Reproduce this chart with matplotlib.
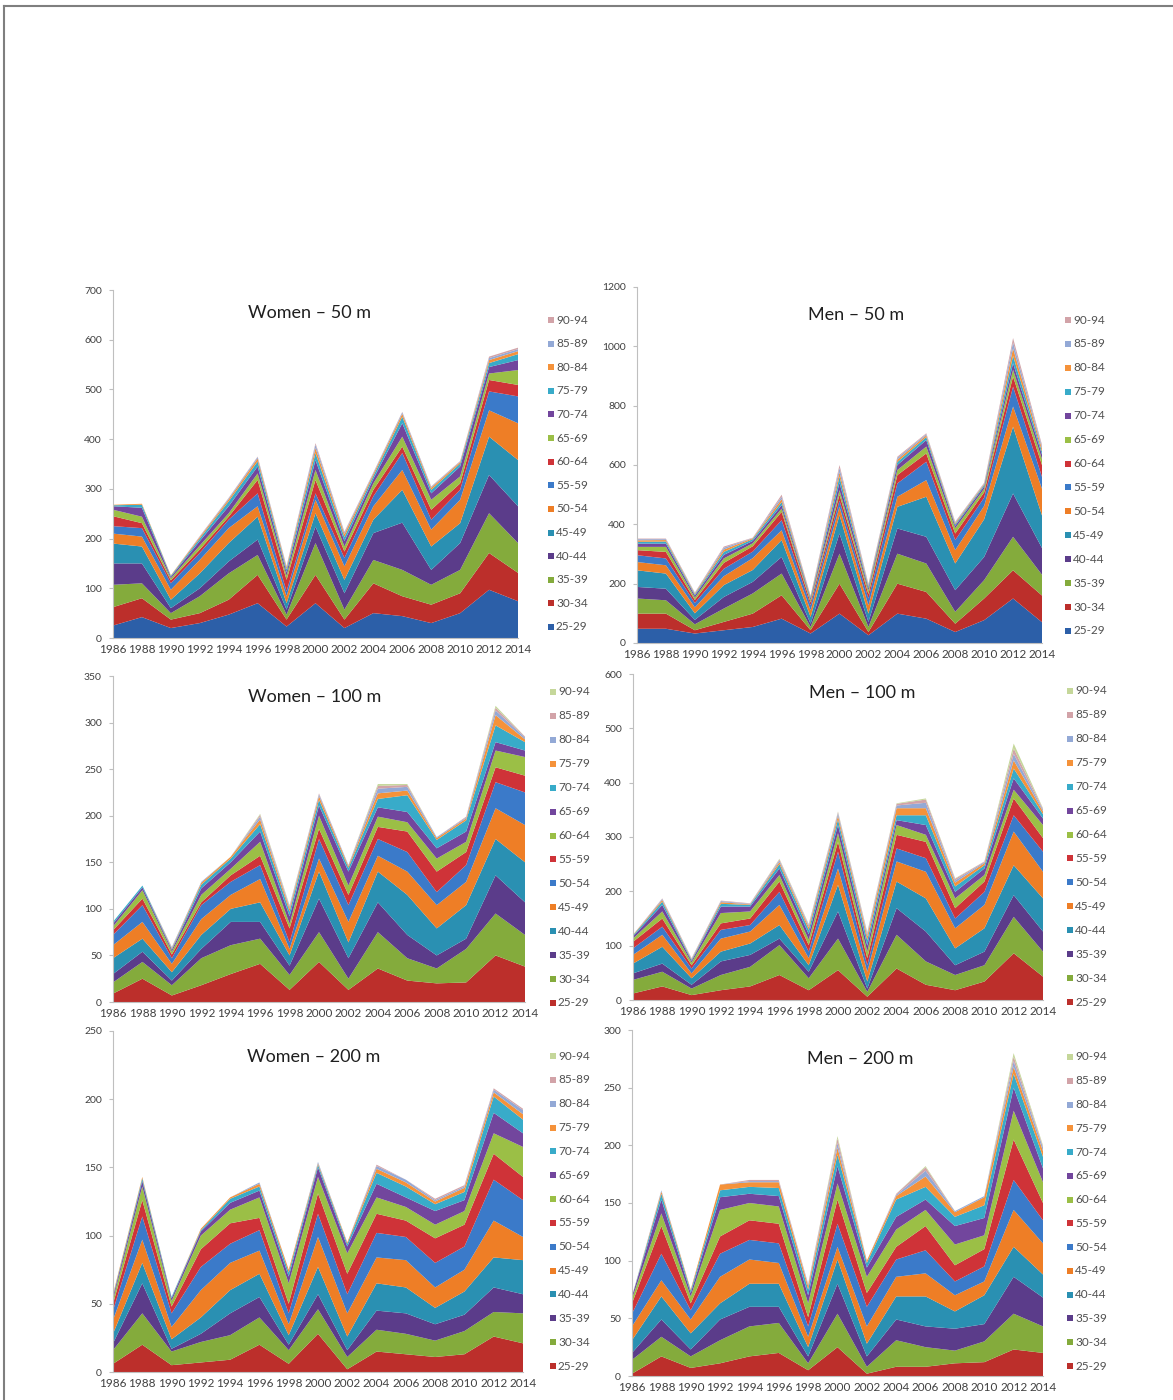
import numpy as np
import matplotlib
matplotlib.use('Agg')
import matplotlib.pyplot as plt
from matplotlib.patches import Rectangle
from matplotlib.lines import Line2D

plt.rcParams['font.family'] = ['Lato', 'DejaVu Sans']

years = list(range(1986, 2015, 2))
ages = ['25-29', '30-34', '35-39', '40-44', '45-49', '50-54', '55-59',
        '60-64', '65-69', '70-74', '75-79', '80-84', '85-89', '90-94']

# one row per championship year, one column per age group (25-29 ... 90-94)
women_50 = [
    [25, 37, 45, 43, 40, 20, 15, 20, 13, 7, 2, 1, 0, 0],
    [42, 38, 30, 40, 34, 20, 17, 10, 13, 18, 6, 2, 0, 0],
    [20, 17, 13, 10, 17, 20, 13, 6, 4, 3, 2, 1, 0, 0],
    [30, 20, 34, 16, 30, 27, 14, 7, 8, 9, 5, 3, 1, 1],
    [47, 30, 53, 24, 37, 30, 17, 6, 7, 14, 10, 4, 2, 1],
    [70, 57, 40, 31, 46, 21, 26, 27, 13, 14, 10, 6, 3, 1],
    [23, 14, 10, 10, 13, 14, 10, 23, 8, 7, 6, 4, 2, 1],
    [70, 57, 64, 33, 27, 27, 13, 27, 20, 20, 14, 10, 7, 3],
    [20, 17, 20, 33, 27, 27, 17, 13, 10, 11, 8, 6, 3, 2],
    [50, 60, 47, 54, 27, 27, 20, 13, 13, 9, 6, 4, 2, 1],
    [44, 40, 53, 95, 66, 40, 34, 13, 20, 27, 13, 6, 3, 1],
    [30, 37, 40, 30, 47, 34, 20, 20, 20, 13, 7, 4, 2, 1],
    [50, 40, 47, 54, 40, 47, 20, 13, 14, 20, 6, 3, 1, 1],
    [97, 74, 80, 77, 77, 53, 38, 23, 13, 13, 8, 6, 4, 3],
    [74, 57, 60, 74, 93, 74, 54, 23, 30, 20, 12, 6, 4, 3],
]

men_50 = [
    [48, 51, 51, 39, 56, 28, 23, 17, 11, 11, 6, 5, 4, 2],
    [48, 51, 45, 39, 51, 28, 23, 22, 17, 11, 7, 5, 3, 2],
    [32, 11, 20, 15, 22, 20, 15, 10, 8, 7, 4, 3, 2, 1],
    [43, 28, 45, 39, 40, 30, 25, 20, 15, 12, 10, 8, 6, 4],
    [54, 45, 68, 39, 40, 40, 22, 18, 10, 8, 6, 3, 1, 1],
    [82, 79, 73, 56, 57, 33, 34, 28, 11, 12, 10, 10, 8, 7],
    [32, 11, 11, 11, 23, 22, 17, 10, 8, 6, 4, 3, 1, 1],
    [99, 101, 101, 68, 62, 28, 21, 20, 15, 25, 20, 15, 15, 10],
    [26, 11, 17, 17, 28, 28, 23, 15, 12, 8, 6, 4, 3, 2],
    [99, 101, 101, 85, 73, 34, 45, 28, 17, 17, 10, 8, 6, 4],
    [82, 90, 96, 90, 135, 56, 62, 28, 23, 22, 10, 6, 4, 3],
    [37, 28, 40, 73, 90, 45, 34, 22, 18, 8, 5, 4, 3, 2],
    [77, 73, 62, 78, 127, 45, 28, 18, 12, 8, 5, 3, 2, 2],
    [150, 95, 113, 146, 225, 68, 67, 34, 23, 22, 25, 25, 20, 15],
    [70, 90, 70, 90, 110, 90, 40, 40, 20, 15, 10, 10, 7, 6],
]

women_100 = [
    [9, 12, 9, 17, 14, 11, 5, 4, 3, 2, 0, 0, 0, 0],
    [25, 18, 11, 14, 18, 18, 7, 9, 3, 2, 0, 0, 0, 0],
    [7, 11, 5, 9, 9, 6, 4, 3, 2, 1, 1, 1, 0, 0],
    [18, 29, 10, 15, 17, 15, 3, 8, 7, 4, 2, 1, 0, 0],
    [30, 31, 25, 14, 15, 14, 7, 7, 7, 4, 2, 0, 0, 0],
    [41, 27, 18, 21, 25, 15, 10, 15, 11, 8, 5, 3, 2, 1],
    [13, 16, 10, 11, 7, 7, 15, 5, 8, 5, 3, 2, 1, 1],
    [43, 32, 36, 29, 14, 21, 11, 14, 11, 6, 4, 2, 1, 0],
    [13, 12, 22, 17, 22, 18, 11, 10, 15, 4, 2, 1, 0, 0],
    [36, 39, 32, 33, 17, 18, 13, 11, 10, 9, 6, 5, 3, 2],
    [23, 24, 25, 43, 25, 21, 22, 10, 11, 18, 5, 4, 2, 1],
    [20, 16, 14, 29, 25, 14, 22, 14, 11, 9, 2, 1, 0, 0],
    [21, 36, 11, 36, 25, 18, 14, 11, 11, 12, 2, 1, 1, 0],
    [50, 45, 41, 39, 33, 28, 16, 18, 9, 18, 11, 5, 3, 2],
    [38, 34, 35, 43, 40, 35, 18, 20, 7, 9, 3, 2, 1, 0],
]

men_100 = [
    [12, 25, 12, 18, 16, 12, 12, 6, 4, 2, 1, 0, 0, 0],
    [25, 27, 15, 31, 22, 15, 15, 13, 12, 6, 3, 2, 1, 0],
    [9, 12, 7, 12, 9, 9, 6, 5, 3, 2, 1, 1, 1, 0],
    [18, 28, 25, 18, 24, 16, 12, 19, 12, 5, 3, 2, 1, 0],
    [25, 36, 22, 21, 22, 12, 12, 13, 9, 3, 1, 1, 1, 0],
    [46, 55, 12, 25, 37, 24, 19, 12, 12, 8, 4, 3, 2, 1],
    [18, 22, 12, 12, 13, 12, 12, 10, 10, 8, 5, 3, 2, 1],
    [55, 58, 50, 49, 30, 31, 18, 16, 15, 10, 7, 5, 2, 1],
    [6, 9, 6, 13, 18, 12, 13, 12, 11, 10, 7, 4, 3, 1],
    [58, 62, 49, 49, 37, 24, 25, 18, 9, 9, 13, 5, 3, 1],
    [28, 43, 55, 61, 49, 25, 30, 13, 18, 18, 13, 10, 6, 2],
    [18, 28, 18, 31, 37, 18, 19, 18, 12, 10, 7, 4, 3, 1],
    [34, 30, 25, 43, 43, 24, 19, 12, 12, 6, 4, 2, 1, 0],
    [86, 67, 40, 55, 62, 30, 31, 16, 21, 18, 15, 12, 10, 9],
    [43, 46, 37, 61, 49, 37, 25, 24, 12, 8, 5, 3, 2, 1],
]

women_200 = [
    [6, 10, 5, 7, 10, 7, 5, 3, 2, 1, 1, 0, 0, 0],
    [20, 23, 22, 15, 17, 17, 12, 10, 4, 2, 1, 0, 0, 0],
    [5, 10, 2, 7, 9, 10, 5, 4, 2, 1, 0, 0, 0, 0],
    [7, 15, 6, 12, 20, 17, 13, 10, 3, 1, 1, 0, 0, 0],
    [9, 18, 16, 17, 20, 14, 15, 10, 5, 3, 1, 0, 0, 0],
    [20, 20, 15, 17, 17, 15, 9, 15, 5, 3, 2, 1, 0, 0],
    [6, 10, 4, 7, 8, 8, 7, 15, 5, 3, 2, 0, 0, 0],
    [28, 18, 11, 20, 22, 17, 15, 12, 7, 2, 1, 1, 0, 0],
    [2, 9, 5, 10, 17, 14, 15, 15, 5, 2, 1, 0, 0, 0],
    [15, 16, 14, 20, 19, 18, 14, 12, 10, 8, 3, 2, 1, 0],
    [13, 15, 15, 19, 20, 17, 12, 10, 7, 8, 3, 2, 0, 0],
    [11, 12, 12, 12, 15, 18, 18, 10, 10, 5, 2, 1, 1, 0],
    [13, 17, 12, 17, 16, 17, 16, 10, 8, 6, 3, 1, 1, 0],
    [26, 18, 18, 22, 27, 30, 19, 15, 15, 12, 3, 2, 1, 0],
    [21, 22, 14, 25, 17, 27, 17, 22, 10, 10, 4, 3, 1, 0],
]

men_200 = [
    [2, 12, 6, 11, 12, 11, 9, 4, 2, 0, 0, 0, 0, 0],
    [17, 17, 15, 20, 14, 23, 24, 11, 12, 5, 2, 1, 0, 0],
    [7, 10, 6, 14, 12, 8, 6, 6, 3, 2, 1, 0, 0, 0],
    [11, 20, 18, 14, 23, 20, 15, 23, 11, 6, 5, 0, 0, 0],
    [17, 26, 17, 20, 21, 17, 17, 15, 8, 6, 4, 1, 1, 0],
    [20, 26, 14, 20, 18, 17, 17, 15, 9, 7, 5, 1, 1, 0],
    [5, 6, 6, 8, 9, 9, 8, 12, 7, 5, 3, 1, 1, 0],
    [25, 29, 26, 21, 11, 20, 21, 14, 15, 10, 6, 4, 4, 2],
    [2, 6, 9, 11, 15, 17, 12, 14, 8, 4, 2, 0, 0, 0],
    [8, 23, 18, 20, 17, 15, 11, 15, 11, 15, 3, 1, 1, 0],
    [8, 17, 18, 26, 20, 20, 21, 14, 9, 11, 9, 5, 3, 1],
    [11, 11, 19, 15, 14, 12, 14, 18, 16, 8, 4, 1, 0, 0],
    [12, 18, 15, 25, 12, 13, 15, 12, 15, 11, 7, 1, 0, 0],
    [23, 31, 32, 26, 32, 26, 35, 25, 20, 12, 6, 5, 4, 3],
    [20, 23, 25, 20, 27, 20, 15, 18, 12, 10, 5, 3, 1, 1],
]

# excel-like palette; the 100 m / 200 m charts start one colour later
palette = ['#2C5FA8', '#BC2F2B', '#84AB3C', '#5B3C8A', '#2A90B2', '#EE7E26',
           '#3B7AC9', '#CF3338', '#9BBF46', '#72469D', '#38ABC9', '#F5923A',
           '#93A9D6', '#D2A3A8', '#C5D79A']

W, H = 1173, 1400
fig = plt.figure(figsize=(W / 100, H / 100), dpi=100)

# frame lines of the original figure
fig.add_artist(Line2D([4 / W, 1], [1 - 6 / H, 1 - 6 / H], color='#7F7F7F', lw=1.5))
fig.add_artist(Line2D([4 / W, 4 / W], [0, 1 - 6 / H], color='#7F7F7F', lw=1.5))

# title, data, ymax, ystep, colour offset, axes box (l, t, r, b px), title centre, legend x, legend y0..y1
panels = [
    ('Women \u2013 50 m', women_50, 700, 100, 0, (113, 290, 518, 638), (310, 313), 551, 320, 627),
    ('Men \u2013 50 m', men_50, 1200, 200, 0, (637, 287, 1042, 643), (856, 315), 1068, 320, 631),
    ('Women \u2013 100 m', women_100, 350, 50, 1, (113, 676, 525, 1002), (315, 697), 553, 692, 1003),
    ('Men \u2013 100 m', men_100, 600, 100, 1, (633, 674, 1043, 1000), (862, 693), 1070, 691, 1002),
    ('Women \u2013 200 m', women_200, 250, 50, 1, (113, 1031, 523, 1372), (314, 1057), 553, 1056, 1366),
    ('Men \u2013 200 m', men_200, 300, 50, 1, (632, 1030, 1043, 1376), (860, 1059), 1070, 1057, 1366),
]

for title, data, ymax, ystep, off, box, tpos, lx, ly0, ly1 in panels:
    l, t, r, b = box
    ax = fig.add_axes([l / W, 1 - b / H, (r - l) / W, (b - t) / H])
    cols = palette[off:off + len(ages)]
    vals = np.array(data).T
    ax.stackplot(years, vals, colors=cols, linewidth=0)

    ax.set_xlim(1986, 2014)
    ax.set_ylim(0, ymax)
    ax.set_xticks(years)
    ax.set_yticks(np.arange(0, ymax + 1, ystep))
    for s in ['top', 'right']:
        ax.spines[s].set_visible(False)
    for s in ['left', 'bottom']:
        ax.spines[s].set_color('#BFBFBF')
        ax.spines[s].set_linewidth(0.8)
    ax.tick_params(axis='y', length=3, color='#BFBFBF', labelsize=7.5, labelcolor='#404040', pad=5)
    ax.tick_params(axis='x', length=0, labelsize=8.5, labelcolor='#404040', pad=4)

    fig.text(tpos[0] / W, 1 - tpos[1] / H, title, ha='center', va='center',
             fontsize=13, color='#1F1F1F')

    # legend, reversed order like Excel
    step = (ly1 - ly0) / (len(ages) - 1)
    for i, (age, c) in enumerate(zip(ages[::-1], cols[::-1])):
        y = ly0 + i * step
        fig.add_artist(Rectangle(((lx - 3) / W, 1 - (y + 3) / H), 6 / W, 6 / H,
                                 transform=fig.transFigure, facecolor=c, edgecolor='none'))
        fig.text((lx + 5) / W, 1 - y / H, age, ha='left', va='center',
                 fontsize=8.5, color='#505050')

fig.savefig('out.png', dpi=100, facecolor='white')
